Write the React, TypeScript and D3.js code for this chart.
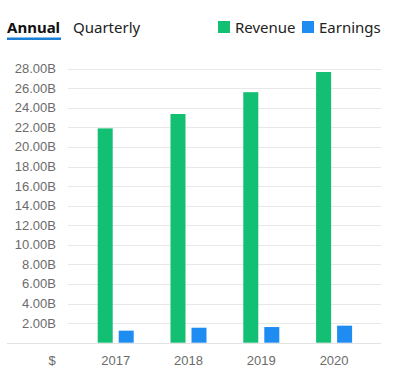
import React, { useEffect, useRef } from "react";
import * as d3 from "d3";

const years = ["2017", "2018", "2019", "2020"];
const seriesNames = ["Revenue", "Earnings"];
const revenue = [21.9, 23.37, 25.6, 27.66];
const earnings = [1.23, 1.53, 1.6, 1.74];
const yTicks = [2, 4, 6, 8, 10, 12, 14, 16, 18, 20, 22, 24, 26, 28];
const colors = ["#12bf73", "#1f8cf2"];

const W = 399;
const H = 386;

const App = () => {
  const svgRef = useRef(null);

  useEffect(() => {
    const svg = d3.select(svgRef.current);
    svg.selectAll("*").remove();

    const x = d3.scaleBand().domain(years).range([79.3, 370.5]).padding(0);
    const inner = d3.scaleBand().domain(seriesNames).range([0, 36]).paddingInner(0.2857).paddingOuter(0);
    const y = d3.scaleLinear().domain([0, 28]).range([342.7, 68.7]);

    // grid lines
    svg.append("g")
      .selectAll("line")
      .data(yTicks)
      .join("line")
      .attr("x1", 68)
      .attr("x2", 381)
      .attr("y1", d => Math.round(y(d)) + 0.5)
      .attr("y2", d => Math.round(y(d)) + 0.5)
      .attr("stroke", "#e8e8e8");

    // baseline
    svg.append("line")
      .attr("x1", 7)
      .attr("x2", 381)
      .attr("y1", Math.round(y(0)) + 0.5)
      .attr("y2", Math.round(y(0)) + 0.5)
      .attr("stroke", "#e2e2e2");

    // y labels
    svg.append("g")
      .selectAll("text")
      .data(yTicks)
      .join("text")
      .attr("x", 56)
      .attr("y", d => y(d) + 4.5)
      .attr("text-anchor", "end")
      .attr("fill", "#6b6b6b")
      .style("font", "13px 'Liberation Sans', Arial, sans-serif")
      .text(d => d3.format(".2f")(d) + "B");

    // bars
    const rows = years.map((yr, i) => ({ yr, vals: [revenue[i], earnings[i]] }));
    const groups = svg.append("g")
      .selectAll("g")
      .data(rows)
      .join("g")
      .attr("transform", d => `translate(${x(d.yr) + x.bandwidth() / 2 - 18},0)`);
    groups.selectAll("rect")
      .data(d => d.vals.map((v, j) => ({ v, name: seriesNames[j], j })))
      .join("rect")
      .attr("x", d => inner(d.name))
      .attr("width", inner.bandwidth())
      .attr("y", d => y(d.v))
      .attr("height", d => y(0) - y(d.v))
      .attr("fill", d => colors[d.j]);

    // x labels
    svg.append("g")
      .selectAll("text")
      .data(years)
      .join("text")
      .attr("x", d => x(d) + x.bandwidth() / 2)
      .attr("y", 365)
      .attr("text-anchor", "middle")
      .attr("fill", "#6b6b6b")
      .style("font", "13px 'Liberation Sans', Arial, sans-serif")
      .text(d => d);

    svg.append("text")
      .attr("x", 52)
      .attr("y", 365)
      .attr("text-anchor", "middle")
      .attr("fill", "#6b6b6b")
      .style("font", "13px 'Liberation Sans', Arial, sans-serif")
      .text("$");

    // tabs
    svg.append("text")
      .attr("x", 7)
      .attr("y", 33)
      .attr("fill", "#111")
      .style("font", "bold 15px 'Noto Sans', sans-serif")
      .text("Annual");
    svg.append("rect")
      .attr("x", 7)
      .attr("y", 37.5)
      .attr("width", 54)
      .attr("height", 2.5)
      .attr("fill", "#1b7fd6");
    svg.append("text")
      .attr("x", 73)
      .attr("y", 33)
      .attr("fill", "#222")
      .style("font", "15px 'Noto Sans', sans-serif")
      .text("Quarterly");

    // legend
    const legendX = [218, 302];
    seriesNames.forEach((name, i) => {
      svg.append("rect")
        .attr("x", legendX[i])
        .attr("y", 21)
        .attr("width", 12)
        .attr("height", 12)
        .attr("fill", colors[i]);
      svg.append("text")
        .attr("x", legendX[i] + 17)
        .attr("y", 33)
        .attr("fill", "#222")
        .style("font", "15px 'Noto Sans', sans-serif")
        .text(name);
    });
  }, []);

  return (
    <svg
      ref={svgRef}
      width={W}
      height={H}
      style={{ position: "absolute", left: 0, top: 0, background: "#fff" }}
    ></svg>
  );
};

export default App;
